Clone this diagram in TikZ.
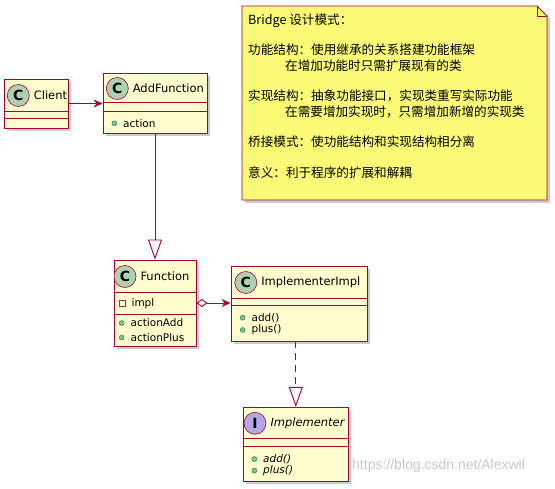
\documentclass[tikz,border=0pt]{standalone}
\usepackage{fontspec}
\setmainfont{DejaVu Sans}
\newfontfamily\cjk{Noto Sans CJK SC}
\newfontfamily\wmfont{Liberation Sans}
\usetikzlibrary{positioning,calc,shadows,arrows.meta}
\definecolor{umlred}{HTML}{A80036}
\definecolor{umlfill}{HTML}{FEFECE}
\definecolor{cgreen}{HTML}{ADD1B2}
\definecolor{ipurple}{HTML}{B4A7E5}
\definecolor{notefill}{HTML}{FBFB77}
\definecolor{pubfill}{HTML}{84BE84}
\definecolor{publine}{HTML}{038048}
\definecolor{privline}{HTML}{C82930}
\begin{document}
\begin{tikzpicture}[
                x=1pt, y=-1pt,
                shade/.style={drop shadow={shadow xshift=3pt, shadow yshift=-3pt, fill=black!40, opacity=0.5}},
                classbox/.style={rectangle, draw=umlred, fill=umlfill, line width=0.9pt, inner sep=0pt, shade},
                sep/.style={draw=umlred, line width=0.9pt},
                icon/.style={circle, draw=umlred, line width=0.6pt, minimum size=22pt, inner sep=0pt, font=\fontsize{14}{14}\selectfont\bfseries},
                cname/.style={inner sep=0pt, right=4pt of #1, font=\fontsize{11.5}{14}\selectfont},
                pub/.style={circle, draw=publine, fill=pubfill, line width=0.4pt, minimum size=5pt, inner sep=0pt},
                priv/.style={rectangle, draw=privline, line width=0.8pt, minimum size=6pt, inner sep=0pt},
                member/.style={inner sep=0pt, right=6pt of #1, font=\fontsize{10.5}{12}\selectfont},
                link/.style={draw=umlred, line width=0.9pt},
                uses/.style={link, -{Stealth[length=9pt, width=8pt, inset=3pt]}},
                owns/.style={link, {Diamond[open, fill=white, length=11pt, width=8pt]}-{Stealth[length=9pt, width=8pt, inset=3pt]}},
                extends/.style={link, -{Triangle[open, fill=white, length=20pt, width=14pt]}},
                realizes/.style={extends, dash pattern=on 7pt off 5pt},
            ]
            \useasboundingbox (0,0) rectangle (555,488);
            % note
            \draw[draw=umlred, fill=notefill, line width=0.9pt, shade]
                (242,6) -- (537,6) -- (547,16) -- (547,200) -- (242,200) -- cycle;
            \draw[umlred, line width=0.9pt] (537,6) -- (537,16) -- (547,16);
            \node[anchor=north west, inner sep=0pt, align=left,
                  font=\cjk\fontsize{12.6}{15.3}\selectfont] (note) at (248,13.5) {%
                Bridge 设计模式：\\ \mbox{}\\
                功能结构：使用继承的关系搭建功能框架\\
                \hspace*{37pt}在增加功能时只需扩展现有的类\\ \mbox{}\\
                实现结构：抽象功能接口，实现类重写实际功能\\
                \hspace*{37pt}在需要增加实现时，只需增加新增的实现类\\ \mbox{}\\
                桥接模式：使功能结构和实现结构相分离\\ \mbox{}\\
                意义：利于程序的扩展和解耦};

            % Client
            \node[classbox, minimum width=64pt, minimum height=49pt] (client) at (36,103.5) {};
            \draw[sep] ($(client.north west)+(0,33)$) -- ($(client.north east)+(0,33)$);
            \draw[sep] ($(client.north west)+(0,40)$) -- ($(client.north east)+(0,40)$);
            \node[icon, fill=cgreen] (client-c) at (18.3,95.5) {C};
            \node[cname=client-c] (client-n) {Client};

            % AddFunction
            \node[classbox, minimum width=104pt, minimum height=60pt] (addfn) at (155,103) {};
            \draw[sep] ($(addfn.north west)+(0,30)$) -- ($(addfn.north east)+(0,30)$);
            \draw[sep] ($(addfn.north west)+(0,39)$) -- ($(addfn.north east)+(0,39)$);
            \node[icon, fill=cgreen] (addfn-c) at (117.3,88.5) {C};
            \node[cname=addfn-c] (addfn-n) {AddFunction};
            \node[pub] (addfn-d1) at (114.3,123.3) {};
            \node[member=addfn-d1] (addfn-m1) {action};

            % Function
            \node[classbox, minimum width=82pt, minimum height=86pt] (fn) at (155,303) {};
            \draw[sep] ($(fn.north west)+(0,33)$) -- ($(fn.north east)+(0,33)$);
            \draw[sep] ($(fn.north west)+(0,55)$) -- ($(fn.north east)+(0,55)$);
            \node[icon, fill=cgreen] (fn-c) at (125,276.5) {C};
            \node[cname=fn-c] (fn-n) {Function};
            \node[priv] (fn-d1) at (122,303.5) {};
            \node[member=fn-d1] (fn-m1) {impl};
            \node[pub] (fn-d2) at (121.7,323) {};
            \node[member=fn-d2] (fn-m2) {actionAdd};
            \node[pub] (fn-d3) at (121.7,337.5) {};
            \node[member=fn-d3] (fn-m3) {actionPlus};

            % ImplementerImpl
            \node[classbox, minimum width=136pt, minimum height=75pt] (impl) at (299,303.5) {};
            \draw[sep] ($(impl.north west)+(0,33)$) -- ($(impl.north east)+(0,33)$);
            \draw[sep] ($(impl.north west)+(0,40)$) -- ($(impl.north east)+(0,40)$);
            \node[icon, fill=cgreen] (impl-c) at (245.8,282.5) {C};
            \node[cname=impl-c] (impl-n) {ImplementerImpl};
            \node[pub] (impl-d1) at (242.7,317.7) {};
            \node[member=impl-d1] (impl-m1) {add()};
            \node[pub] (impl-d2) at (242.7,330) {};
            \node[member=impl-d2] (impl-m2) {plus()};

            % Implementer
            \node[classbox, minimum width=105pt, minimum height=74pt] (iface) at (295.8,444.3) {};
            \draw[sep] ($(iface.north west)+(0,32)$) -- ($(iface.north east)+(0,32)$);
            \draw[sep] ($(iface.north west)+(0,40)$) -- ($(iface.north east)+(0,40)$);
            \node[icon, fill=ipurple] (iface-c) at (255,423.3) {I};
            \node[cname=iface-c, font=\fontsize{11.5}{14}\selectfont\itshape] (iface-n) {Implementer};
            \node[pub] (iface-d1) at (254.3,459) {};
            \node[member=iface-d1, font=\fontsize{10.5}{12}\selectfont\itshape] (iface-m1) {add()};
            \node[pub] (iface-d2) at (254.3,470.7) {};
            \node[member=iface-d2, font=\fontsize{10.5}{12}\selectfont\itshape] (iface-m2) {plus()};

            % relations
            \draw[uses] (client.east) -- (client.east -| addfn.west);
            \draw[extends] (addfn.south) -- (fn.north);
            \draw[owns] (fn.east) -- (fn.east -| impl.west);
            \draw[realizes] (impl.south -| iface.north) -- (iface.north);

            \node[anchor=west, inner sep=0pt, text=black!22, font=\wmfont\fontsize{14}{16}\selectfont] (wm) at (352,466) {https://blog.csdn.net/Alexwil};
            \end{tikzpicture}
\end{document}
